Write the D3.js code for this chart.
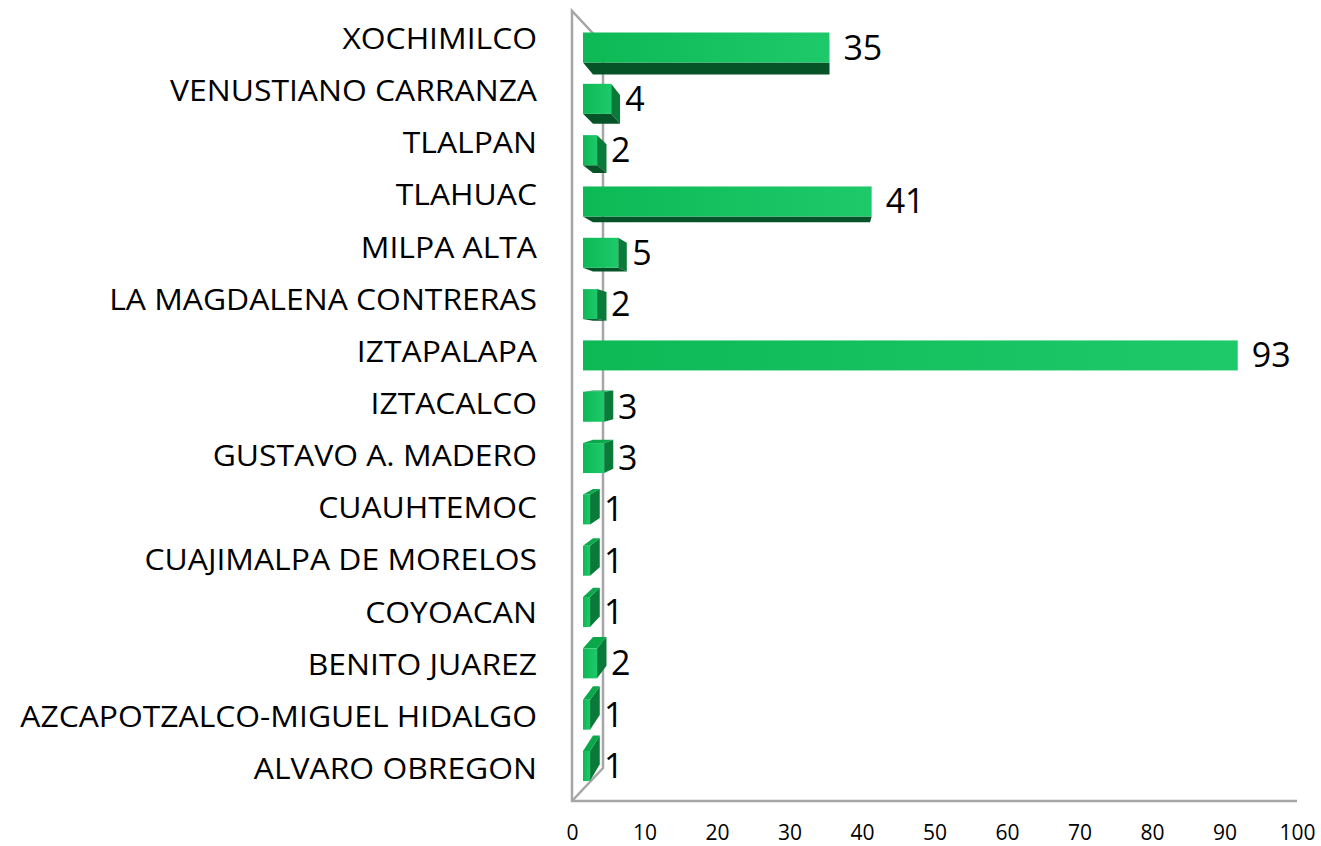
<!DOCTYPE html>
<html>
<head>
<meta charset="utf-8">
<script src="https://cdn.jsdelivr.net/npm/d3@7"></script>
<style>
  html, body { margin: 0; padding: 0; background: #fff; }
  svg { display: block; font-family: "Open Sans", sans-serif; }
</style>
</head>
<body>
<div id="chart"></div>
<script>
const categories = [
    'XOCHIMILCO', 'VENUSTIANO CARRANZA', 'TLALPAN', 'TLAHUAC', 'MILPA ALTA',
    'LA MAGDALENA CONTRERAS', 'IZTAPALAPA', 'IZTACALCO', 'GUSTAVO A. MADERO',
    'CUAUHTEMOC', 'CUAJIMALPA DE MORELOS', 'COYOACAN', 'BENITO JUAREZ',
    'AZCAPOTZALCO-MIGUEL HIDALGO', 'ALVARO OBREGON'
];
const values = [35, 4, 2, 41, 5, 2, 93, 3, 3, 1, 1, 1, 2, 1, 1];
const xTicks = [0, 10, 20, 30, 40, 50, 60, 70, 80, 90, 100];

const width = 1321, height = 846;
const wallColor = '#a6a6a6';

// perspective: faces recede toward a vanishing point
const vp = { x: 833, y: 362 };
const depth = 0.04;
const back = (x, y) => [x + (vp.x - x) * depth, y + (vp.y - y) * depth];

const svg = d3.select('#chart').append('svg')
    .attr('width', width)
    .attr('height', height);

// axis scale (floor front edge) and bar scale (bars sit a little deeper)
const xAxis = d3.scaleLinear().domain([0, 100]).range([572, 1297]);
const xBar = d3.scaleLinear().domain([0, 100]).range([583, 1287]);

const yLabel = d3.scalePoint().domain(categories).range([38.5, 768.5]);
const yBar = d3.scalePoint().domain(categories).range([47.5, 766]);
const barH = 30;

// side wall + floor
const floorY = 801, topY = 11, wallDepth = 31;
const wall = svg.append('g')
    .attr('fill', 'none')
    .attr('stroke', wallColor)
    .attr('stroke-width', 2.5);

wall.append('path')
    .attr('d', `M${xAxis(0) + wallDepth},${topY + 33} L${xAxis(0)},${topY} L${xAxis(0)},${floorY} L${xAxis(100)},${floorY}`);
wall.append('path')
    .attr('d', `M${xAxis(0)},${floorY} L${xAxis(0) + wallDepth},${floorY - 33} L${xAxis(0) + wallDepth},${topY + 33}`);

const defs = svg.append('defs');
const grad = defs.append('linearGradient')
    .attr('id', 'barFill')
    .attr('x1', 0).attr('x2', 1).attr('y1', 0).attr('y2', 0);
grad.append('stop').attr('offset', '0%').attr('stop-color', '#0db955');
grad.append('stop').attr('offset', '100%').attr('stop-color', '#1ec96a');

// bars
const bars = svg.append('g');
const poly = pts => 'M' + pts.map(p => p.join(',')).join('L') + 'Z';

categories.forEach((c, i) => {
    const v = values[i];
    const x0 = xBar(0), x1 = xBar(v);
    const y0 = yBar(c) - barH / 2, y1 = yBar(c) + barH / 2;
    const g = bars.append('g');

    if (x1 < vp.x) {
        g.append('path')
            .attr('d', poly([[x1, y0], back(x1, y0), back(x1, y1), [x1, y1]]))
            .attr('fill', '#0a7a39');
    }
    if (y1 < vp.y) {
        g.append('path')
            .attr('d', poly([[x0, y1], [x1, y1], back(x1, y1), back(x0, y1)]))
            .attr('fill', '#075328');
    } else if (y0 > vp.y) {
        g.append('path')
            .attr('d', poly([[x0, y0], [x1, y0], back(x1, y0), back(x0, y0)]))
            .attr('fill', '#0aa84b');
    }
    g.append('rect')
        .attr('x', x0)
        .attr('y', y0)
        .attr('width', x1 - x0)
        .attr('height', barH)
        .attr('fill', 'url(#barFill)');
});

// value labels
svg.append('g')
    .selectAll('text')
    .data(categories)
    .enter().append('text')
    .attr('x', (d, i) => xBar(values[i]) + 14)
    .attr('y', d => yBar(d) + 12)
    .style('font-size', '34px')
    .style('fill', '#000')
    .text((d, i) => values[i]);

// category labels (stretched a bit horizontally to match the original face)
svg.append('g')
    .attr('transform', 'translate(537, 0) scale(1.08, 1)')
    .selectAll('text')
    .data(categories)
    .enter().append('text')
    .attr('x', 0)
    .attr('y', d => yLabel(d) + 10.5)
    .attr('text-anchor', 'end')
    .style('font-size', '29.5px')
    .style('fill', '#000')
    .text(d => d);

// x tick labels
const axisG = svg.append('g')
    .attr('transform', `translate(0, ${floorY + 20})`)
    .call(d3.axisBottom(xAxis).tickValues(xTicks).tickSize(0).tickPadding(0));
axisG.select('.domain').remove();
axisG.selectAll('text')
    .attr('dy', null)
    .attr('y', 19)
    .style('font-family', '"Open Sans", sans-serif')
    .style('font-size', '21px')
    .style('fill', '#000');
</script>
</body>
</html>
